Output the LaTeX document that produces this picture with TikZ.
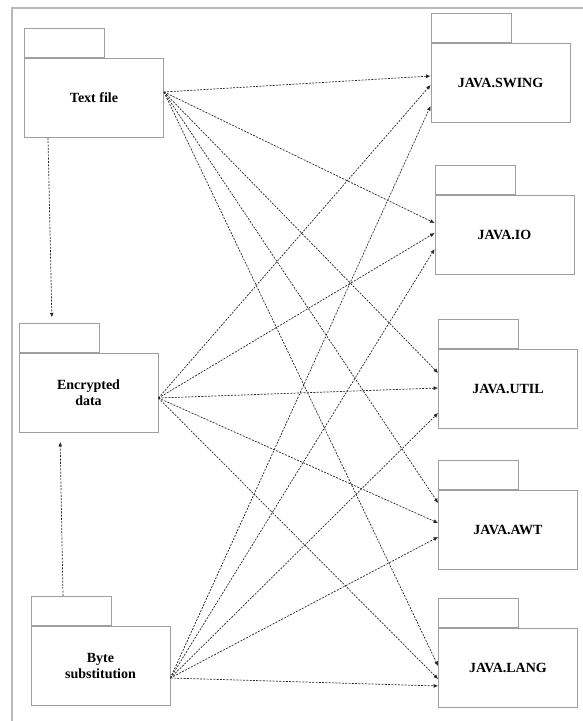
\documentclass[tikz,border=0pt]{standalone}
\usepackage{fontspec}
\setmainfont{Liberation Serif}
\usetikzlibrary{arrows.meta,positioning}

\begin{document}
\begin{tikzpicture}[x=1pt,y=-1pt,>={Latex[length=4.5pt,width=4pt]},
  pkg/.style={draw=gray!75,line width=.8pt,minimum width=139pt,minimum height=79pt,
    align=center,font=\fontsize{14}{16}\selectfont\bfseries},
  tab/.style={draw=gray!75,line width=.8pt,minimum width=80pt,minimum height=29pt,inner sep=0pt},
  dep/.style={->,dash pattern=on 2pt off 1.3pt,black!85,line width=.7pt}]
  \useasboundingbox (0,0) rectangle (583,721);
  \draw[gray!55,line width=2pt] (12,721)--(12,8)--(583,8);
  % left packages
  \node[pkg] (txt) at (94,98) {Text file};
  \node[pkg] (enc) at (88.5,393) {Encrypted\\data};
  \node[pkg] (byte) at (100.5,665.5) {Byte\\substitution};
  % java packages
  \node[pkg] (swing) at (500.5,82.5) {JAVA.SWING};
  \node[pkg] (io) at (504.5,234.5) {JAVA.IO};
  \node[pkg] (util) at (508,389) {JAVA.UTIL};
  \node[pkg] (awt) at (508,530) {JAVA.AWT};
  \node[pkg] (lang) at (508,668) {JAVA.LANG};
  \node[tab,above right=0pt and 0pt of txt.north west] (txttab) {};
  \node[tab,above right=0pt and 0pt of enc.north west] (enctab) {};
  \node[tab,above right=0pt and 0pt of byte.north west] (bytetab) {};
  \node[tab,above right=0pt and 0pt of swing.north west] (swingtab) {};
  \node[tab,above right=0pt and 0pt of io.north west] (iotab) {};
  \node[tab,above right=0pt and 0pt of util.north west] (utiltab) {};
  \node[tab,above right=0pt and 0pt of awt.north west] (awttab) {};
  \node[tab,above right=0pt and 0pt of lang.north west] (langtab) {};
  % vertical flow
  \draw[dep,shorten >=6pt] ([xshift=-46pt]txt.south)--([xshift=-7pt]enctab.north);
  \draw[dep,shorten >=9pt] ([xshift=-8pt]bytetab.north)--([xshift=-28.5pt]enc.south);
  % Text file uses
  \draw[dep] ([yshift=6pt]txt.east)--([yshift=6.5pt]swing.west);
  \draw[dep] ([yshift=6pt]txt.east)--([yshift=11.5pt]io.west);
  \draw[dep] ([yshift=6pt]txt.east)--([yshift=16pt]util.west);
  \draw[dep] ([yshift=6pt]txt.east)--([yshift=27pt]awt.west);
  \draw[dep] ([yshift=6pt]txt.east)--([yshift=2pt]lang.west);
  % Encrypted data uses
  \draw[dep] ([yshift=-5pt]enc.east)--([yshift=-2.5pt]swing.west);
  \draw[dep] ([yshift=-5pt]enc.east)--([yshift=1.5pt]io.west);
  \draw[dep] ([yshift=-5pt]enc.east)--([yshift=1pt]util.west);
  \draw[dep] ([yshift=-5pt]enc.east)--([yshift=7pt]awt.west);
  \draw[dep] ([yshift=-5pt]enc.east)--([yshift=-11pt]lang.west);
  % Byte substitution uses
  \draw[dep] ([yshift=-12.5pt]byte.east)--([yshift=-23.5pt]swing.west);
  \draw[dep] ([yshift=-12.5pt]byte.east)--([yshift=-14.5pt]io.west);
  \draw[dep] ([yshift=-12.5pt]byte.east)--([yshift=-24pt]util.west);
  \draw[dep] ([yshift=-12.5pt]byte.east)--([yshift=-7pt]awt.west);
  \draw[dep] ([yshift=-12.5pt]byte.east)--([yshift=-18pt]lang.west);
\end{tikzpicture}
\end{document}
